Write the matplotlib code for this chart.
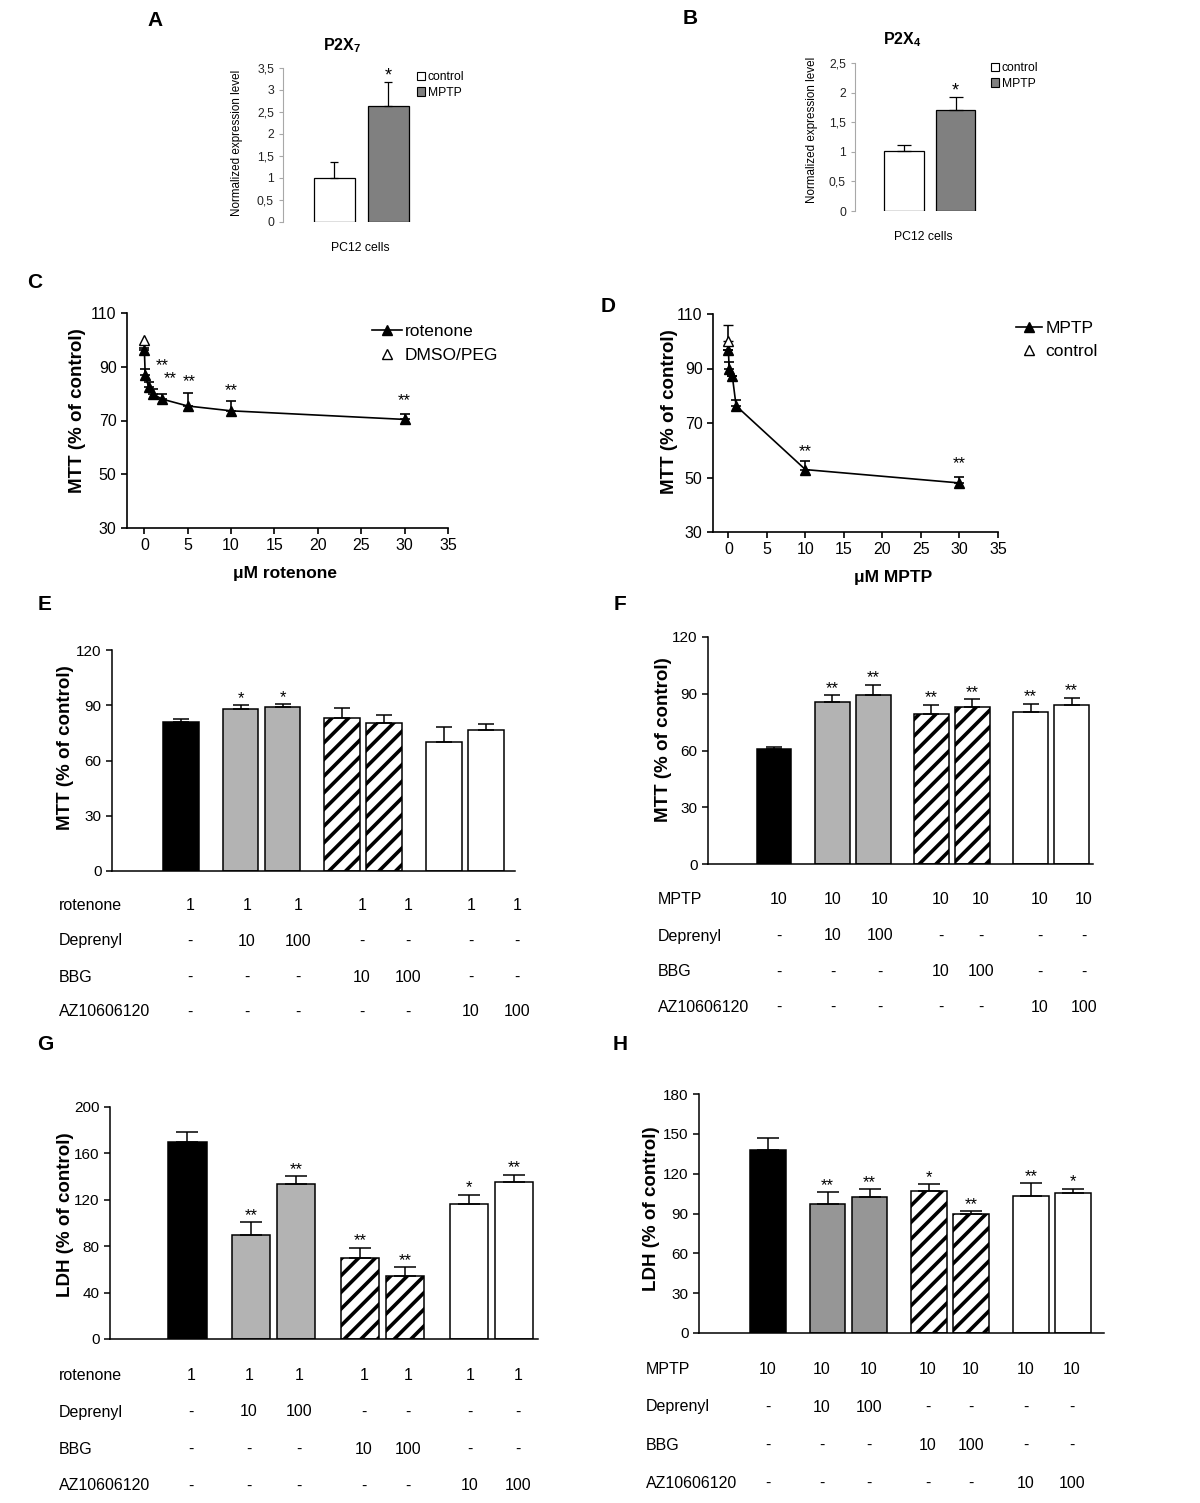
import numpy as np
import matplotlib.pyplot as plt
from matplotlib.patches import Patch
from matplotlib.lines import Line2D
from matplotlib.ticker import FuncFormatter

plt.rcParams['font.family'] = ['Liberation Sans', 'DejaVu Sans']
plt.rcParams['hatch.linewidth'] = 2.6
plt.rcParams['mathtext.fontset'] = 'custom'
plt.rcParams['mathtext.rm'] = 'Liberation Sans'
plt.rcParams['mathtext.bf'] = 'Liberation Sans:bold'

## data
# A / B : PC12 expression
ab_labels = ['control', 'MPTP']
a_vals = [1.0, 2.63]
a_err = [0.36, 0.56]
b_vals = [1.01, 1.70]
b_err = [0.10, 0.23]

# C : rotenone dose response
rot_x = [0, 0.1, 0.5, 1, 2, 5, 10, 30]
rot_y = [96.3, 87.0, 82.3, 79.9, 78.0, 75.4, 73.6, 70.4]
rot_err = [0.8, 2.0, 2.2, 1.9, 2.0, 5.0, 3.8, 2.2]
dmso_y = 100
rot_star_x = [2.1, 3.0, 5.2, 10, 30]
rot_star_y = [90.5, 85.6, 84.6, 81.2, 77.5]

# D : MPTP dose response
mptp_x = [0, 0.1, 0.5, 1, 10, 30]
mptp_y = [96.8, 89.7, 87.4, 76.3, 52.9, 48.0]
mptp_err = [0, 2.8, 0, 2.2, 3.0, 2.3]
ctrl_y = 100
ctrl_err = 6.0
mptp_star_x = [10, 30]
mptp_star_y = [59.4, 55.1]

# E-H : bar groups
rot_row = ['1', '1', '1', '1', '1', '1', '1']
mptp_row = ['10', '10', '10', '10', '10', '10', '10']
dep_row = ['-', '10', '100', '-', '-', '-', '-']
bbg_row = ['-', '-', '-', '10', '100', '-', '-']
az_row = ['-', '-', '-', '-', '-', '10', '100']
groups = [0, 1, 1, 2, 2, 3, 3]

e_vals = [80.7, 87.9, 88.8, 83.2, 80.3, 70.0, 76.7]
e_err = [2.0, 2.0, 2.0, 5.3, 4.3, 8.3, 3.2]
e_sig = ['', '*', '*', '', '', '', '']

f_vals = [60.7, 85.9, 89.2, 79.2, 82.9, 80.2, 83.8]
f_err = [1.2, 3.5, 5.6, 5.1, 4.4, 4.6, 4.2]
f_sig = ['', '**', '**', '**', '**', '**', '**']

g_vals = [169.9, 90.0, 133.2, 70.2, 54.7, 116.6, 135.0]
g_err = [8.9, 10.6, 6.9, 8.6, 7.2, 7.8, 6.8]
g_sig = ['', '**', '**', '**', '**', '*', '**']

h_vals = [137.8, 97.3, 102.8, 107.3, 89.5, 103.3, 105.8]
h_err = [8.8, 9.0, 5.3, 4.8, 2.3, 9.8, 3.0]
h_sig = ['', '**', '**', '*', '**', '**', '*']

W, H = 1200, 1503
fig = plt.figure(figsize=(12, 15.03), dpi=100)


def px_axes(l, t, r, b):
    return fig.add_axes([l / W, 1 - b / H, (r - l) / W, (b - t) / H])


def ftext(x, y, s, **kw):
    fig.text(x / W, 1 - y / H, s, **kw)


## panel letters
for lab, x, y in [('A', 155, 20), ('B', 690, 18), ('C', 35, 282), ('D', 608, 307),
                  ('E', 45, 605), ('F', 620, 605), ('G', 45, 1045), ('H', 620, 1045)]:
    ftext(x, y, lab, fontsize=15, fontweight='bold', ha='center', va='center')


## A and B
def expr_panel(box, vals, err, ymax, cap, title, title_xy, cells_xy, ylab_xy, leg_xy):
    ax = px_axes(*box)
    pos = np.arange(2)
    ax.bar(pos, vals, 0.76, color=['white', '#808080'], edgecolor='black', linewidth=0.9)
    ax.errorbar(pos, vals, yerr=[[0, 0], err], fmt='none', ecolor='black',
                elinewidth=0.9, capsize=cap, capthick=0.9)
    ax.annotate('*', (1, vals[1] + err[1]), xytext=(0, 1), textcoords='offset points',
                ha='center', va='baseline', fontsize=13, annotation_clip=False)
    ax.set_xlim(-0.95, 1.55)
    ax.set_ylim(0, ymax)
    ax.set_yticks(np.arange(0, ymax + 0.01, 0.5))
    ax.yaxis.set_major_formatter(FuncFormatter(lambda v, p: '{:g}'.format(v).replace('.', ',')))
    for s in ['top', 'right', 'bottom']:
        ax.spines[s].set_visible(False)
    ax.spines['left'].set_color('#a8a8a8')
    ax.tick_params(axis='y', colors='#a8a8a8', labelcolor='#222222', labelsize=8.8, length=3)
    ax.set_xticks([])
    ftext(*title_xy, title, fontsize=11.5, fontweight='bold', ha='center', va='center')
    ftext(*cells_xy, 'PC12 cells', fontsize=8.8, ha='center', va='center')
    ftext(*ylab_xy, 'Normalized expression level', fontsize=8.4, rotation=90,
          ha='center', va='center')
    handles = [Patch(facecolor='white', edgecolor='black', lw=0.8),
               Patch(facecolor='#808080', edgecolor='black', lw=0.8)]
    fig.legend(handles, ab_labels, loc='upper left', bbox_to_anchor=(leg_xy[0] / W, 1 - leg_xy[1] / H),
               frameon=False, fontsize=8.7, handlelength=0.7, handleheight=0.7,
               handletextpad=0.2, labelspacing=0.3, borderpad=0, borderaxespad=0)


expr_panel((283, 68, 418, 222), a_vals, a_err, 3.5, 3, r'P2X$_{\mathbf{7}}$', (342, 46),
           (360, 248), (237, 143), (417, 71))
expr_panel((855, 63, 984, 211), b_vals, b_err, 2.5, 4.7, r'P2X$_{\mathbf{4}}$', (902, 40),
           (923, 237), (812, 130), (991, 62))


## C and D
def dose_axes(box):
    ax = px_axes(*box)
    ax.set_xlim(-2, 35)
    ax.set_ylim(30, 110)
    ax.set_xticks(np.arange(0, 36, 5))
    ax.set_yticks([30, 50, 70, 90, 110])
    for s in ['top', 'right']:
        ax.spines[s].set_visible(False)
    for s in ['left', 'bottom']:
        ax.spines[s].set_linewidth(1.2)
    ax.tick_params(labelsize=11.5, length=4, width=1.2)
    return ax


axc = dose_axes((127, 313, 448, 528))
axc.errorbar(rot_x, rot_y, yerr=[np.zeros(len(rot_x)), rot_err], fmt='-^', color='black',
             ms=7, lw=1.2, elinewidth=1.2, capsize=3.3, capthick=1.2, clip_on=False)
axc.plot([0], [dmso_y], '^', mfc='white', mec='black', ms=7, mew=1, zorder=5, clip_on=False)
for x, y in zip(rot_star_x, rot_star_y):
    axc.text(x, y, '**', ha='center', va='center', fontsize=12)
ftext(78, 411, 'MTT (% of control)', fontsize=13.5, fontweight='bold', rotation=90,
      ha='center', va='center')
ftext(285, 573, 'μM rotenone', fontsize=12.5, fontweight='bold', ha='center', va='center')
hc = [Line2D([], [], color='black', marker='^', ms=7, lw=1.2),
      Line2D([], [], color='black', marker='^', mfc='white', ms=7, lw=0)]
fig.legend(hc, ['rotenone', 'DMSO/PEG'], loc='upper left',
           bbox_to_anchor=(372 / W, 1 - 324 / H), frameon=False, fontsize=12.5,
           handlelength=1.7, handletextpad=0.2, labelspacing=0.5, borderpad=0, borderaxespad=0)

axd = dose_axes((713, 314, 998, 532))
axd.errorbar(mptp_x, mptp_y, yerr=[np.zeros(len(mptp_x)), mptp_err], fmt='-^', color='black',
             ms=7, lw=1.2, elinewidth=1.2, capsize=3.3, capthick=1.2, clip_on=False)
axd.errorbar([0], [ctrl_y], yerr=[[0], [ctrl_err]], fmt='^', mfc='white', mec='black',
             ecolor='black', ms=7, mew=1, elinewidth=1.2, capsize=3.3, capthick=1.2, zorder=5)
for x, y in zip(mptp_star_x, mptp_star_y):
    axd.text(x, y, '**', ha='center', va='center', fontsize=12)
ftext(670, 412, 'MTT (% of control)', fontsize=13.5, fontweight='bold', rotation=90,
      ha='center', va='center')
ftext(893, 578, 'μM MPTP', fontsize=12.5, fontweight='bold', ha='center', va='center')
hd = [Line2D([], [], color='black', marker='^', ms=7, lw=1.2),
      Line2D([], [], color='black', marker='^', mfc='white', ms=7, lw=0)]
fig.legend(hd, ['MPTP', 'control'], loc='upper left',
           bbox_to_anchor=(1016 / W, 1 - 321 / H), frameon=False, fontsize=12.5,
           handlelength=1.5, handletextpad=0.2, labelspacing=0.45, borderpad=0, borderaxespad=0)


## E-H bar panels
def bar_panel(box, xlim, ymax, ystep, vals, err, sig, gray, cap, ylab, ylab_xy,
              rows, row_names, label_x, row_y, col_x):
    ax = px_axes(*box)
    pos = np.arange(len(vals)) + 0.42 * np.array(groups)
    colors = ['black', gray, gray, 'white', 'white', 'white', 'white']
    hatches = [None, None, None, '//', '//', None, None]
    bars = ax.bar(pos, vals, 0.85, color=colors, edgecolor='black', linewidth=1.1)
    for b, h in zip(bars, hatches):
        if h:
            b.set_hatch(h)
    ax.errorbar(pos, vals, yerr=[np.zeros(len(vals)), err], fmt='none', ecolor='black',
                elinewidth=1.1, capsize=cap, capthick=1.1)
    for p, v, e, s in zip(pos, vals, err, sig):
        if s:
            ax.annotate(s, (p, v + e), xytext=(0, 1.5), textcoords='offset points',
                        ha='center', va='baseline', fontsize=12)
    ax.set_xlim(*xlim)
    ax.set_ylim(0, ymax)
    ax.set_yticks(np.arange(0, ymax + 1, ystep))
    ax.set_xticks([])
    for s in ['top', 'right']:
        ax.spines[s].set_visible(False)
    for s in ['left', 'bottom']:
        ax.spines[s].set_linewidth(1.1)
    ax.tick_params(axis='y', labelsize=11, length=4, width=1.1)
    ftext(*ylab_xy, ylab, fontsize=13.5, fontweight='bold', rotation=90, ha='center', va='center')
    for name, row, y in zip(row_names, rows, row_y):
        ftext(label_x, y, name, fontsize=11.5, ha='left', va='center')
        for x, s in zip(col_x, row):
            ftext(x, y, s, fontsize=11.5, ha='center', va='center')


names_rot = ['rotenone', 'Deprenyl', 'BBG', 'AZ10606120']
names_mptp = ['MPTP', 'Deprenyl', 'BBG', 'AZ10606120']

bar_panel((112, 650, 515, 871), (-1.64, 7.95), 120, 30, e_vals, e_err, e_sig, '#b3b3b3', 6,
          'MTT (% of control)', (65, 748), [rot_row, dep_row, bbg_row, az_row], names_rot,
          59, [905, 941, 977, 1012], [190, 247, 298, 362, 408, 471, 517])
bar_panel((708, 637, 1093, 864), (-1.61, 7.78), 120, 30, f_vals, f_err, f_sig, '#b3b3b3', 6,
          'MTT (% of control)', (663, 740), [mptp_row, dep_row, bbg_row, az_row], names_mptp,
          658, [899, 936, 972, 1007], [779, 833, 880, 941, 981, 1040, 1084])
bar_panel((110, 1107, 538, 1339), (-1.72, 7.79), 200, 40, g_vals, g_err, g_sig, '#b3b3b3', 8,
          'LDH (% of control)', (65, 1215), [rot_row, dep_row, bbg_row, az_row], names_rot,
          59, [1375, 1412, 1449, 1486], [191, 249, 299, 364, 408, 470, 518])
bar_panel((699, 1094, 1104, 1333), (-1.64, 8.0), 180, 30, h_vals, h_err, h_sig, '#969696', 8,
          'LDH (% of control)', (652, 1209), [mptp_row, dep_row, bbg_row, az_row], names_mptp,
          646, [1369, 1407, 1445, 1483], [768, 822, 869, 928, 971, 1026, 1072])

plt.savefig('out.png', dpi=100)
